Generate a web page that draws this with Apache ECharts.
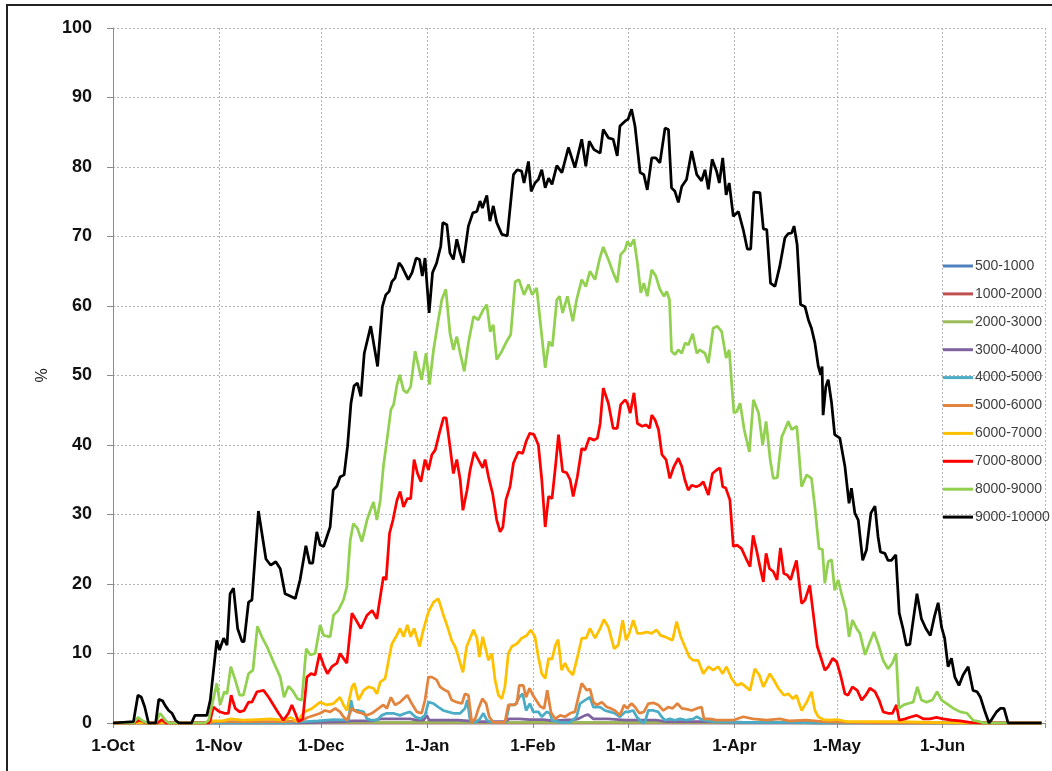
<!DOCTYPE html>
<html>
<head>
<meta charset="utf-8">
<script src="https://cdn.jsdelivr.net/npm/echarts@6/dist/echarts.min.js"></script>
<style>
  html, body { margin: 0; padding: 0; background: #fff; }
  #wrap { position: relative; width: 1052px; height: 771px; }
  #chart { width: 1052px; height: 771px; }
  #frame {
    position: absolute; left: 6px; top: 4px; width: 1046px; height: 767px;
    border-left: 2px solid #222; border-top: 2px solid #222;
    pointer-events: none; box-sizing: border-box;
  }
</style>
</head>
<body>
<div id="wrap">
  <div id="chart"></div>
  <div id="frame"></div>
</div>
<script>
// x = days since 1 Oct, y = %
const monthDays = [0, 31, 61, 92, 123, 151, 182, 212, 243, 273];
const monthLabels = ["1-Oct", "1-Nov", "1-Dec", "1-Jan", "1-Feb", "1-Mar", "1-Apr", "1-May", "1-Jun", ""];

const seriesNames = ["500-1000", "1000-2000", "2000-3000", "3000-4000", "4000-5000",
  "5000-6000", "6000-7000", "7000-8000", "8000-9000", "9000-10000"];
const seriesColors = ["#4f81bd", "#c0504d", "#9bbb59", "#8064a2", "#4bacc6",
  "#e2843d", "#ffc000", "#ff0000", "#92d050", "#000000"];

const s500 = [[0, 0], [272, 0]];
const s1000 = [[0, 0], [272, 0]];
const s2000 = [[0, 0], [58, 0], [62, 0.1], [90, 0.1], [120, 0.1], [150, 0.1], [175, 0.1], [190, 0.1], [200, 0], [272, 0]];
const s3000 = [[0, 0], [55, 0], [60, 0.1], [68, 0.2], [70, 0.3], [76, 0.3], [78.3, 0.6], [83, 0.6], [87, 0.6], [89, 0.4],
  [91, 0.4], [91.9, 1.1], [92.6, 0.4], [96, 0.4], [101, 0.4], [104, 0.3], [107, 0.2], [115, 0.2], [116, 0.6], [119, 0.6],
  [122, 0.5], [126, 0.5], [129, 0.3], [132, 0.4], [135, 0.5], [136.3, 0.6], [138.3, 1.1], [139.2, 1.2], [140.7, 0.6],
  [145, 0.6], [148, 0.5], [150, 0.4], [156, 0.4], [159, 0.4], [162, 0.2], [175, 0.2], [185, 0.1], [200, 0.1], [205, 0], [272, 0]];
const s4000 = [[0, 0], [50, 0], [60, 0.3], [64.6, 0.5], [69, 0.4], [69.7, 3.3], [70.4, 1.8], [71.9, 1.8], [73.4, 1.6],
  [74.4, 0.6], [75.8, 0.4], [77.3, 0.4], [78.7, 1.1], [80.2, 1.4], [82.1, 1.4], [84.1, 1.1], [85.6, 1.4], [87, 1.6],
  [88.5, 0.9], [90, 0.6], [91.4, 1.1], [92.4, 3], [93.9, 2.8], [95.3, 2.3], [96.8, 1.8], [98.2, 1.6], [99.7, 1.4],
  [101.7, 1.4], [103.1, 2.1], [103.8, 3.3], [104.6, 0.4], [106.1, 0.1], [107.5, 0.6], [108.5, 1.4], [109.5, 0.4],
  [111, 0.1], [115, 0.1], [116.1, 2.6], [117.8, 2.6], [119, 3.7], [120, 4.2], [121, 1.8], [122.1, 2.8], [123.1, 1.6],
  [124.6, 1.6], [125.6, 0.9], [127, 1.6], [128, 1.4], [128.6, 0.4], [131, 0.1], [133.9, 0.1], [135.8, 0.9], [136.8, 2.8],
  [138.3, 3.3], [139.7, 3.7], [140.7, 2.3], [142.7, 2.3], [144.1, 1.8], [145.6, 1.6], [147, 1.4], [148.5, 0.9], [150, 1.6],
  [150.9, 1.6], [152.4, 1.8], [153.4, 0.9], [154.9, 0.1], [155.8, 0.1], [156.8, 1.8], [158.3, 1.8], [159.7, 1.6],
  [160.7, 0.9], [161.7, 0.4], [163.1, 0.6], [164.6, 0.4], [166.1, 0.6], [168, 0.4], [170, 0.6], [171, 0.9], [172.9, 0.4],
  [176, 0.2], [185, 0.1], [200, 0.1], [205, 0], [272, 0]];
const s5000 = [[0, 0], [28, 0], [30, 0.2], [40, 0.2], [50, 0.2], [55, 0.3], [57, 0.8], [60.7, 1.4], [62.1, 1.8], [63.6, 1.6],
  [65.1, 2.1], [66.5, 1.6], [67.5, 0.9], [68.5, 0.4], [70, 2.1], [71.4, 1.6], [72.9, 1.4], [74.4, 1.1], [75.8, 1.4],
  [77.8, 2.1], [79.2, 2.6], [80.2, 2.1], [81.4, 3.7], [82.6, 2.6], [84.1, 3], [85.1, 3.5], [86.2, 4], [87.5, 2.8], [89, 1.6],
  [90.4, 1.4], [91.4, 3.3], [92.4, 6.6], [93.4, 6.6], [94.8, 6.2], [95.8, 5.2], [97.3, 4.7], [98.2, 4.5], [99.2, 3.3],
  [100.7, 3], [102.2, 2.8], [103.1, 4.2], [104.1, 4], [105.1, 0.1], [106.1, 0.6], [107, 2], [108.2, 3.5], [109.3, 2.8],
  [110.2, 0.9], [111.4, 0.1], [114.8, 0.1], [115.8, 2.6], [117.3, 2.6], [118.3, 2.8], [119, 5.4], [120.2, 5.4], [121, 3.7],
  [122, 5], [123, 4], [123.9, 3.3], [125.1, 2.4], [126.3, 2.1], [127.2, 4.7], [128.3, 1.5], [129.5, 0.6], [131, 1.1],
  [132.4, 0.9], [133.9, 1.4], [135.3, 1.6], [136.3, 3.7], [137.3, 5.7], [138.8, 4.7], [139.7, 4.9], [140.7, 3], [141.7, 2.6],
  [143.2, 3], [144.6, 2.3], [145.8, 2.1], [147, 1.8], [148.5, 1.1], [149.7, 2.6], [150.6, 2.1], [151.9, 2.8], [152.9, 2.3],
  [154.2, 1.4], [155.5, 1.6], [156.8, 2.8], [158.3, 2.9], [159.7, 2.6], [161.2, 1.8], [162.6, 2.3], [163.9, 2.1],
  [165.3, 2.8], [166.6, 2.1], [168, 2], [169.5, 1.8], [171, 2.1], [172.4, 2.3], [173.1, 0.6], [174.8, 0.6], [176.8, 0.4],
  [178.7, 0.4], [181.7, 0.4], [184.6, 0.9], [187.5, 0.6], [191.5, 0.4], [195.3, 0.6], [198, 0.3], [203, 0.4], [208, 0.2],
  [215, 0.1], [225, 0], [272, 0]];
const s6000 = [[0, 0], [27, 0], [29, 0.3], [32, 0.3], [34.5, 0.6], [38, 0.4], [42, 0.5], [46, 0.6], [50, 0.4], [52, 0.8],
  [54, 0.2], [56, 1.6], [58, 2], [60.7, 3], [62.6, 2.6], [64.6, 2.8], [66.5, 3.7], [67.5, 2.6], [68.5, 1.8], [70, 5.2],
  [70.7, 5.7], [71.9, 3.3], [73.4, 4.7], [74.8, 5.2], [76.3, 5], [77.3, 4.2], [78.3, 5.9], [79.7, 6.4], [80.2, 7.6],
  [80.7, 9], [81.7, 11.4], [82.9, 12.4], [84.1, 13.6], [85.1, 12.4], [86.2, 14.1], [87.2, 12.4], [88.2, 13.6], [89.8, 11],
  [90.9, 13.4], [92.4, 16], [93.9, 17.4], [95.3, 17.9], [96.6, 15.8], [98, 13.8], [99.2, 11.9], [100.2, 11], [100.9, 10],
  [101.7, 8.6], [102.5, 7.3], [103.6, 11], [104.6, 12.2], [105.6, 13.4], [106.6, 12.2], [107.3, 9.5], [108.3, 12.4],
  [109, 11], [110, 9], [111, 10], [111.9, 6.2], [112.9, 4], [113.9, 3.5], [114.8, 5.2], [115.8, 10], [116.8, 11],
  [118.3, 11.4], [119.7, 12.2], [121.2, 12.6], [122.4, 13.4], [123.6, 12.4], [124.6, 9.5], [125.6, 7.1], [126.6, 6.4],
  [127.6, 9.3], [128.6, 9.2], [129.6, 11.2], [130.4, 12], [131.4, 7.6], [132.4, 8.6], [133.4, 7.6], [134.7, 6.9],
  [135.8, 9], [137.3, 12.2], [138.6, 12.2], [139.7, 13.6], [141.2, 12.2], [142.7, 13.6], [143.8, 14.9], [145.1, 13.8],
  [146.8, 10.7], [148, 11.2], [149.3, 14.8], [150.3, 11.9], [151.2, 12.9], [152.4, 14.8], [153.6, 12.9], [154.9, 12.9],
  [156.3, 13.1], [157.8, 12.9], [159.2, 13.4], [160.4, 12.6], [161.7, 12.4], [162.6, 12.2], [163.9, 11.9], [165.1, 14.6],
  [166.3, 12.4], [167.5, 11], [168.8, 9.5], [170, 9], [171.4, 9], [172.9, 7.1], [174.4, 8.1], [175.8, 7.6], [177.3, 8.1],
  [178.6, 7.1], [179.7, 8.1], [181.2, 6.4], [182.7, 5.4], [184.1, 5.7], [185.4, 5.2], [186.6, 4.7], [188, 7.8],
  [189.3, 6.9], [190.5, 5.2], [192.4, 7.1], [193.9, 5.9], [194.9, 5], [196.5, 4], [197.8, 4.2], [199.2, 3.5], [200.2, 4],
  [201.7, 1.8], [203.2, 3], [204.6, 4.5], [205.6, 1.8], [206.6, 0.9], [208, 0.5], [210, 0.4], [212, 0.5], [215, 0.2],
  [222, 0.2], [230, 0.2], [240, 0.1], [248, 0], [272, 0]];
const s7000 = [[0, 0], [6, 0], [7.5, 0.4], [8.5, 0.3], [9.5, 0], [13, 0], [14.3, 0.5], [15.5, 0], [28, 0], [28.5, 0.4],
  [29.4, 2.3], [30.9, 1.7], [32.6, 1.4], [33.8, 1.4], [34.6, 4], [35.8, 2.1], [37.1, 1.6], [38.4, 1.8], [39.7, 3],
  [40.7, 3], [42.2, 4.5], [44.1, 4.7], [45.6, 3.7], [47, 2.6], [48.5, 1.4], [49.9, 0.4], [51.4, 1.4], [52.4, 2.6],
  [53.4, 1.4], [54.3, 0.2], [55.6, 0.6], [56.8, 6.6], [58, 7.1], [59.2, 6.9], [60.5, 10], [61.7, 8.3], [62.8, 7.1],
  [64.1, 8.1], [65.6, 8.6], [66.5, 10], [67.5, 9.3], [68.5, 8.6], [70, 15.8], [71.2, 14.8], [72.6, 13.6], [74.4, 15.5],
  [75.9, 16.2], [77.3, 15], [78.3, 18.2], [79.2, 21], [80, 20.6], [81, 27.3], [82, 29.2], [83.2, 32.1], [84.1, 33.3],
  [85.1, 31.1], [86.2, 32.3], [87.2, 32.3], [88.2, 37.9], [89.2, 35.9], [90.2, 34.7], [91.4, 37.9], [92.4, 36.4],
  [93.4, 38.6], [94.4, 39.3], [95.6, 41.7], [96.8, 43.9], [97.6, 43.9], [98.7, 39.8], [99.7, 35.9], [100.7, 37.9],
  [101.7, 35], [102.5, 30.6], [103.7, 33.5], [104.6, 36.4], [105.8, 39], [107, 37.9], [108.3, 36.7], [109, 37.9],
  [110, 35.4], [111.2, 33], [112.4, 29.2], [113.4, 27.5], [114.2, 28.2], [115.1, 32.1], [116.3, 34], [117.3, 37.4],
  [118.7, 39], [120, 38.8], [121, 40.5], [122.1, 41.7], [123.3, 41.5], [124.6, 40], [125.6, 35], [126.6, 28.2],
  [127.6, 32.6], [128.6, 32.3], [129.6, 36.9], [130.5, 41.5], [131.7, 36.2], [132.9, 36], [133.9, 35], [134.8, 32.6],
  [136, 35.4], [137.3, 39.5], [138.3, 39.3], [139.5, 41], [140.9, 40.7], [141.9, 41], [142.7, 43.1], [143.6, 48.2],
  [145.1, 46], [146.5, 42.4], [147.7, 42.4], [148.7, 45.8], [150, 46.5], [150.7, 46], [151.5, 44.6], [152.6, 47.5],
  [153.6, 43.1], [155, 42.7], [156.2, 42.9], [157.2, 42.4], [157.8, 44.3], [158.8, 43.6], [159.8, 42.2], [160.8, 38.6],
  [162, 37.9], [163.1, 35.2], [164.3, 36.9], [165.6, 38.1], [166.6, 36.9], [167.5, 35], [168.5, 33.5], [169.5, 34.2],
  [170.8, 34], [171.9, 34.2], [172.9, 34.7], [174.4, 32.8], [175.6, 35.9], [176.8, 36.4], [177.8, 36.7], [178.6, 34],
  [179.5, 33.8], [180.7, 32.1], [181.7, 25.4], [182.8, 25.6], [184.1, 25.1], [185.4, 23.7], [186.6, 22.5], [187.5, 27],
  [188.5, 24.9], [189.5, 22.5], [190.5, 20.3], [191.3, 24.4], [192.3, 22.2], [193.4, 21.8], [194.5, 20.6], [195.5, 25.2],
  [196.5, 21.5], [197.5, 21.3], [198.5, 20.6], [199.2, 21.8], [200.2, 23.4], [201.7, 17.2], [202.7, 17.7], [204.1, 19.8],
  [205.1, 15.8], [206.3, 11], [207.3, 9.5], [208.5, 7.6], [209.5, 8.1], [210.8, 9.3], [212, 8.8], [213.1, 6.9],
  [214.4, 4.2], [215.3, 4], [216.6, 5.2], [218, 4.7], [219.3, 3.3], [220.5, 4], [221.7, 5], [223.2, 4.5], [224.4, 3.3],
  [225.6, 1.6], [227, 1.4], [228.3, 1.4], [229.5, 2.6], [230.3, 0.4], [232, 0.6], [233.9, 0.9], [235.4, 1.1], [237.3, 0.6],
  [239.3, 0.6], [241.2, 0.8], [243.1, 0.6], [245.6, 0.4], [248.1, 0.3], [251, 0.1], [253, 0], [272, 0]];
const s8000 = [[0, 0], [6, 0], [7.3, 0.8], [9, 0.2], [10, 0], [12.5, 0], [13.8, 1.4], [15.5, 0.3], [16.5, 0], [27, 0],
  [28, 0.4], [30.4, 5.7], [31.4, 2.6], [32.6, 4.5], [33.4, 4.2], [34.5, 8.1], [35.8, 6.2], [37.1, 4], [38.2, 4], [39.7, 7.1],
  [41, 7.6], [42.3, 13.9], [43.6, 12.4], [45.1, 11], [47, 8.8], [49, 6.6], [50.1, 3.7], [51.4, 5.3], [52.7, 4.6], [54, 3.5],
  [55.3, 3.3], [56.6, 10.7], [57.8, 9.8], [59.2, 10], [60.7, 14.1], [61.7, 12.6], [63.6, 12.4], [64.6, 15.5], [66, 16.2],
  [67.5, 17.7], [68.5, 19.6], [69.5, 26.3], [70.4, 28.7], [71.6, 28], [72.9, 26.1], [74.4, 29.2], [75.4, 30.6],
  [76.3, 31.8], [77.3, 29.2], [78.3, 32.1], [79.2, 36.9], [80, 39.8], [80.7, 42.4], [81.4, 45.1], [82.2, 45.8],
  [83.2, 48.7], [84, 50.1], [85.1, 47.9], [86.1, 47.5], [87.2, 48.4], [88.5, 53.5], [89.5, 51.3], [90.4, 49.4],
  [91.7, 53.2], [92.7, 48.7], [93.9, 53.7], [95.3, 58], [96.3, 60.9], [97.5, 62.4], [98.7, 56.1], [99.7, 53.7],
  [100.7, 55.6], [101.7, 53.2], [102.9, 50.6], [104.1, 54.7], [105.6, 58.5], [107, 58], [108.5, 59.5], [109.5, 60.2],
  [110.5, 56.3], [111.4, 57.3], [112.4, 52.3], [113.9, 53.5], [115.3, 54.9], [116.5, 55.9], [117.8, 63.5], [118.9, 63.8],
  [120.4, 61.6], [121.7, 63.1], [122.8, 61.6], [124.1, 62.6], [125.3, 57.1], [126.6, 51.1], [127.7, 54.9], [128.7, 54.2],
  [130, 60.9], [130.8, 61.4], [131.7, 59], [133.1, 61.4], [134.7, 57.8], [135.8, 60.9], [137.3, 63.8], [138.5, 62.8],
  [139.7, 65], [141.2, 63.8], [142.5, 66.7], [143.6, 68.5], [145.1, 66.7], [146.5, 64.8], [147.7, 63.4], [148.7, 67.4],
  [150, 68.1], [150.7, 69.3], [151.5, 68.6], [152.6, 69.6], [153.6, 66.2], [154.6, 61.9], [155.5, 63.3], [156.5, 61.4],
  [157.8, 65.2], [159, 64.3], [160.2, 62.4], [161.4, 61.4], [162.2, 62.1], [163, 60.9], [163.6, 53.5], [164.6, 53],
  [165.6, 53.7], [166.6, 53.2], [167.6, 54.7], [168.5, 54.4], [169.8, 56], [171, 53.2], [171.9, 53.7], [173.4, 53.2],
  [174.4, 51.8], [175.8, 56.8], [177, 57.1], [178.3, 56.3], [179.6, 52.5], [180.5, 53.7], [181.5, 47], [181.9, 44.6],
  [182.7, 44.8], [183.7, 46], [184.9, 42.2], [186.4, 39], [187.6, 46.5], [189.1, 44.6], [190.3, 40], [191.3, 43.4],
  [192.5, 37.9], [193.4, 35.2], [194.6, 35.3], [195.9, 41.2], [196.8, 42.2], [197.8, 43.4], [198.8, 42.2], [200.3, 42.7],
  [201.7, 34], [203.2, 35.7], [204.6, 35.2], [205.6, 31.1], [206.8, 25.1], [207.8, 25], [208.5, 20.1], [209.5, 23.2],
  [210.5, 23.5], [211.4, 19.1], [212.4, 20.6], [213.4, 18.6], [214.7, 16.2], [215.6, 12.4], [216.6, 14.8], [217.8, 13.6],
  [218.8, 12.9], [220.3, 9.8], [221.5, 11.4], [222.9, 13.1], [224.1, 11.4], [225.6, 9], [227, 7.8], [228.3, 8.6],
  [229.4, 10], [230.2, 2.1], [231.6, 2.6], [232.9, 2.8], [234.4, 3], [235.6, 5.2], [236.8, 3.3], [238.3, 3], [240, 3.3],
  [241.4, 4.5], [242.7, 3.3], [244.2, 2.8], [246.2, 2.1], [248.2, 1.6], [250.2, 1.4], [251.9, 0.4], [253.8, 0.2], [255, 0],
  [272, 0]];
const s9000 = [[0, 0], [6, 0.2], [7.3, 4.0], [8.3, 3.7], [9.3, 2.3], [10.4, 0], [12.5, 0], [13.4, 3.4], [14.5, 3.2],
  [15.3, 2.5], [16.3, 1.8], [17.3, 1.4], [18.3, 0.4], [19.3, 0], [23, 0], [24, 1.1], [27.5, 1.1], [28.5, 3.3], [30.4, 11.9],
  [31.2, 10.5], [32.4, 12.2], [33.4, 11.2], [34.3, 18.6], [35.3, 19.4], [36.5, 13.6], [37.8, 11.7], [38.4, 11.7],
  [39.7, 17.4], [40.7, 17.7], [42.6, 30.5], [44.8, 23.6], [46.2, 22.7], [47.7, 23.2], [49, 22.2], [50.4, 18.6],
  [51.7, 18.3], [53.4, 17.9], [54.8, 20.6], [56.5, 25.5], [57.6, 23], [58.5, 23], [59.7, 27.5], [60.7, 25.6],
  [61.7, 25.4], [63.6, 28.2], [64.5, 33.5], [65.6, 34.1], [66.5, 35.4], [67.7, 35.7], [68.7, 39.8], [69.7, 46],
  [70.6, 48.5], [71.6, 48.9], [72.6, 47], [73.6, 53.2], [75.5, 57.1], [77.5, 51.3], [78.9, 59.9], [79.9, 61.6],
  [80.9, 62.1], [81.7, 63.5], [82.6, 64], [83.8, 66.2], [84.6, 65.7], [86.5, 63.8], [87.6, 64.8], [88.8, 66.9],
  [89.8, 66.7], [90.6, 64.3], [91.4, 66.9], [92.6, 59], [93.6, 64.8], [94.8, 66.2], [96, 68.6], [96.6, 72], [97.8, 71.7],
  [98.7, 67.6], [99.7, 66.7], [100.7, 69.6], [101.7, 67.6], [102.6, 66.2], [104.1, 71.5], [105.4, 73.4], [106.6, 73.6],
  [107.5, 75.1], [108.2, 74.1], [109.5, 75.9], [110.4, 72.2], [111.4, 74.4], [112.4, 72], [113.9, 70.3], [115.5, 70.1],
  [117.3, 78.9], [118.4, 79.6], [119.7, 79.4], [120.4, 77.7], [121.7, 80.8], [122.5, 76.5], [123.6, 77.7], [124.6, 78.2],
  [125.6, 79.6], [126.6, 77], [127.6, 78.4], [128.6, 77.5], [130, 80.2], [131.5, 79.2], [133.4, 82.8], [135.3, 79.9],
  [137.3, 84], [138.5, 80.1], [139.5, 83.7], [140.9, 82.5], [142.7, 82], [143.6, 85.4], [145.1, 84.2], [146.5, 84],
  [147.7, 81.6], [148.5, 85.9], [150, 86.6], [150.9, 86.9], [151.9, 88.3], [152.9, 85.9], [154.4, 79.2], [155.5, 78.9],
  [156.5, 76.7], [157.8, 81.3], [159, 81.3], [160.2, 80.6], [161.7, 85.6], [162.7, 85.4], [163.6, 77], [164.6, 76.5],
  [165.6, 74.9], [166.6, 77.2], [168, 78.2], [169.5, 82.3], [171, 78.9], [172.4, 78], [173.4, 79.6], [174.4, 76.8],
  [175.5, 81.1], [176.8, 79.4], [177.6, 77.7], [178.6, 81.3], [179.6, 76], [180.5, 77.7], [181.7, 72.9], [183.2, 73.6],
  [184.6, 71], [185.8, 68.2], [186.8, 68.2], [187.7, 76.4], [189.5, 76.3], [190.5, 71.1], [191.5, 71], [192.6, 63.3],
  [193.9, 62.8], [195.3, 65.7], [196.8, 69.8], [197.8, 70.4], [198.8, 70.5], [199.5, 71.5], [200.4, 68.8], [201.4, 60.2],
  [202.7, 59.9], [203.7, 58], [204.6, 56.8], [205.6, 54.7], [206.6, 51.3], [207.3, 50.1], [207.7, 51.3], [208, 44.3],
  [208.8, 48.4], [209.5, 49.4], [210.5, 46], [211.4, 41.5], [212.9, 41], [214.4, 36.9], [215.6, 31.6], [216.3, 33.8],
  [217.3, 30.2], [218.3, 29.2], [219.6, 23.4], [220.7, 24.9], [222, 30.2], [223.2, 31.2], [224.1, 26.8], [224.8, 24.6],
  [226.1, 24.4], [227, 23.4], [228, 23.4], [229.3, 24.2], [230.3, 15.8], [231.4, 13.6], [232.4, 11.2], [233.4, 11.3],
  [234.4, 14.8], [235.5, 18.6], [236.8, 15], [238.1, 13.6], [239.4, 12.6], [240.7, 15.5], [241.7, 17.3], [242.7, 13.8],
  [243.6, 12.2], [244.6, 8.1], [245.6, 9.3], [246.6, 6.6], [247.8, 5.4], [249, 6.9], [250.5, 8.1], [251.9, 4.7],
  [253.1, 4.5], [254.1, 3.7], [255.3, 1.8], [256.6, 0], [257.5, 0.6], [258.8, 1.6], [259.9, 2.1], [261, 2.1], [262.2, 0],
  [272, 0]];

const seriesData = [s500, s1000, s2000, s3000, s4000, s5000, s6000, s7000, s8000, s9000];

const chart = echarts.init(document.getElementById("chart"));

const gridLine = { show: true, lineStyle: { color: "#b4b4b4", type: [2, 2], width: 1 } };

chart.setOption({
  backgroundColor: "#fff",
  animation: false,
  textStyle: { fontFamily: "Liberation Sans, Arial, sans-serif" },
  grid: { left: 113, right: 7, top: 28, bottom: 48 },
  legend: {
    orient: "vertical",
    left: 938,
    top: 254,
    icon: "rect",
    itemWidth: 30,
    itemHeight: 3,
    itemGap: 13.9,
    textStyle: { fontSize: 14, color: "#404040", padding: [0, 0, 0, -3] },
    data: seriesNames
  },
  xAxis: {
    type: "value",
    min: 0,
    max: 273,
    axisLine: { show: true, lineStyle: { color: "#8c8c8c", width: 1 } },
    axisTick: { show: true, customValues: monthDays, length: 5, lineStyle: { color: "#8c8c8c" } },
    axisLabel: {
      customValues: monthDays.slice(0, 9),
      formatter: v => monthLabels[monthDays.indexOf(v)],
      fontSize: 17,
      fontWeight: "bold",
      color: "#111",
      margin: 15
    },
    splitLine: gridLine
  },
  yAxis: {
    type: "value",
    min: 0,
    max: 100,
    interval: 10,
    name: "%",
    nameLocation: "middle",
    nameGap: 62,
    nameTextStyle: { fontSize: 16, color: "#222" },
    axisLine: { show: true, lineStyle: { color: "#8c8c8c", width: 1 } },
    axisTick: { show: true, length: 6, lineStyle: { color: "#8c8c8c" } },
    axisLabel: { fontSize: 18, fontWeight: "bold", color: "#111", margin: 21 },
    splitLine: gridLine
  },
  series: seriesNames.map((name, i) => ({
    name: name,
    type: "line",
    data: seriesData[i],
    showSymbol: false,
    symbol: "none",
    color: seriesColors[i],
    lineStyle: { width: 2.75, color: seriesColors[i] },
    z: 2 + i
  }))
});
</script>
</body>
</html>
